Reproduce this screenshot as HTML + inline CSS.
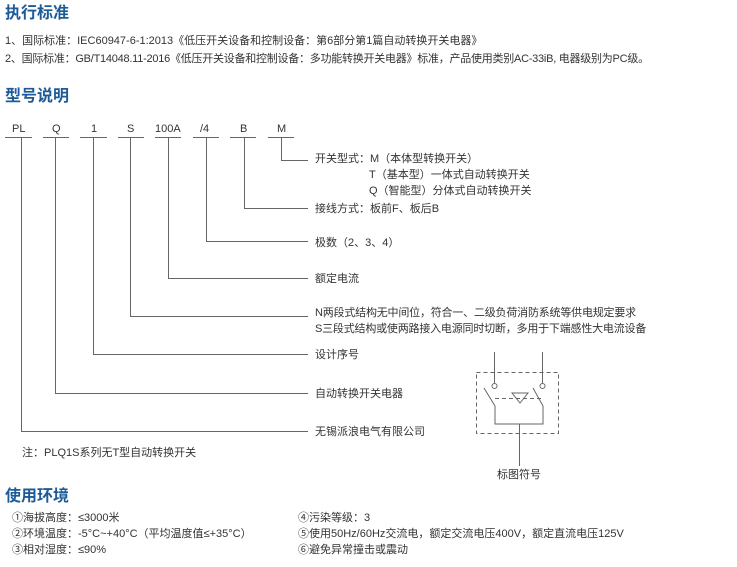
<!DOCTYPE html>
<html><head><meta charset="utf-8"><style>
body{margin:0;width:737px;height:567px;background:#fff;position:relative;overflow:hidden;font-family:"Liberation Sans","Noto Sans CJK SC",sans-serif;color:#333;}
.t{position:absolute;white-space:nowrap;font-size:11px;line-height:14px;}
.h{position:absolute;white-space:nowrap;font-size:16px;font-weight:bold;color:#1c5b98;line-height:20px;}
svg{position:absolute;left:0;top:0;}
</style></head><body>
<div class="h" style="left:5px;top:4px">执行标准</div>
<div class="t" style="left:5px;top:34px">1、国际标准：IEC60947-6-1:2013《低压开关设备和控制设备：第6部分第1篇自动转换开关电器》</div>
<div class="t" style="left:5px;top:52px;letter-spacing:-0.25px">2、国际标准：GB/T14048.11-2016《低压开关设备和控制设备：多功能转换开关电器》标准，产品使用类别AC-33iB, 电器级别为PC级。</div>
<div class="h" style="left:5px;top:87px">型号说明</div>
<div class="t" style="left:12px;top:122px">PL</div>
<div class="t" style="left:52px;top:122px">Q</div>
<div class="t" style="left:91px;top:122px">1</div>
<div class="t" style="left:127px;top:122px">S</div>
<div class="t" style="left:155px;top:122px">100A</div>
<div class="t" style="left:200px;top:122px">/4</div>
<div class="t" style="left:240px;top:122px">B</div>
<div class="t" style="left:277px;top:122px">M</div>
<svg width="737" height="567" stroke="#666" stroke-width="1" fill="none">
<path d="M5 137.5h27M43 137.5h26M80 137.5h27M118 137.5h26M155 137.5h26M193 137.5h26M230 137.5h26M268 137.5h26"/>
<path d="M281.5 138V160.5H308M244.5 138V208.5H308M206.5 138V241.5H308M168.5 138V278.5H308M130.5 138V316.5H308M93.5 138V354.5H308M55.5 138V393.5H308M21.5 138V431.5H308"/>
<rect x="476.5" y="372.5" width="82" height="61" stroke-dasharray="4,3"/>
<path d="M494.5 352V383M542.5 352V383"/>
<circle cx="494.5" cy="386" r="2.5"/><circle cx="542.5" cy="386" r="2.5"/>
<path d="M484 388L495 406V424H543V406L533 388"/>
<path d="M495 398.5H543" stroke-dasharray="4,3"/>
<path d="M512 393H528L520 403Z"/>
<path d="M519.5 424V466"/>
</svg>
<div class="t" style="left:315px;top:152px">开关型式：M（本体型转换开关）</div>
<div class="t" style="left:369px;top:168px">T（基本型）一体式自动转换开关</div>
<div class="t" style="left:369px;top:184px">Q（智能型）分体式自动转换开关</div>
<div class="t" style="left:315px;top:202px">接线方式：板前F、板后B</div>
<div class="t" style="left:315px;top:236px">极数（2、3、4）</div>
<div class="t" style="left:315px;top:272px">额定电流</div>
<div class="t" style="left:315px;top:306px;letter-spacing:-0.2px">N两段式结构无中间位，符合一、二级负荷消防系统等供电规定要求</div>
<div class="t" style="left:315px;top:322px;letter-spacing:-0.2px">S三段式结构或使两路接入电源同时切断，多用于下端感性大电流设备</div>
<div class="t" style="left:315px;top:348px">设计序号</div>
<div class="t" style="left:315px;top:387px">自动转换开关电器</div>
<div class="t" style="left:315px;top:425px">无锡派浪电气有限公司</div>
<div class="t" style="left:22px;top:446px">注：PLQ1S系列无T型自动转换开关</div>
<div class="t" style="left:497px;top:468px">标图符号</div>
<div class="h" style="left:5px;top:487px">使用环境</div>
<div class="t" style="left:12px;top:511px">①海拔高度：≤3000米</div>
<div class="t" style="left:12px;top:527px">②环境温度：-5°C~+40°C（平均温度值≤+35°C）</div>
<div class="t" style="left:12px;top:543px">③相对湿度：≤90%</div>
<div class="t" style="left:298px;top:511px">④污染等级：3</div>
<div class="t" style="left:298px;top:527px">⑤使用50Hz/60Hz交流电，额定交流电压400V，额定直流电压125V</div>
<div class="t" style="left:298px;top:543px">⑥避免异常撞击或震动</div>
</body></html>
